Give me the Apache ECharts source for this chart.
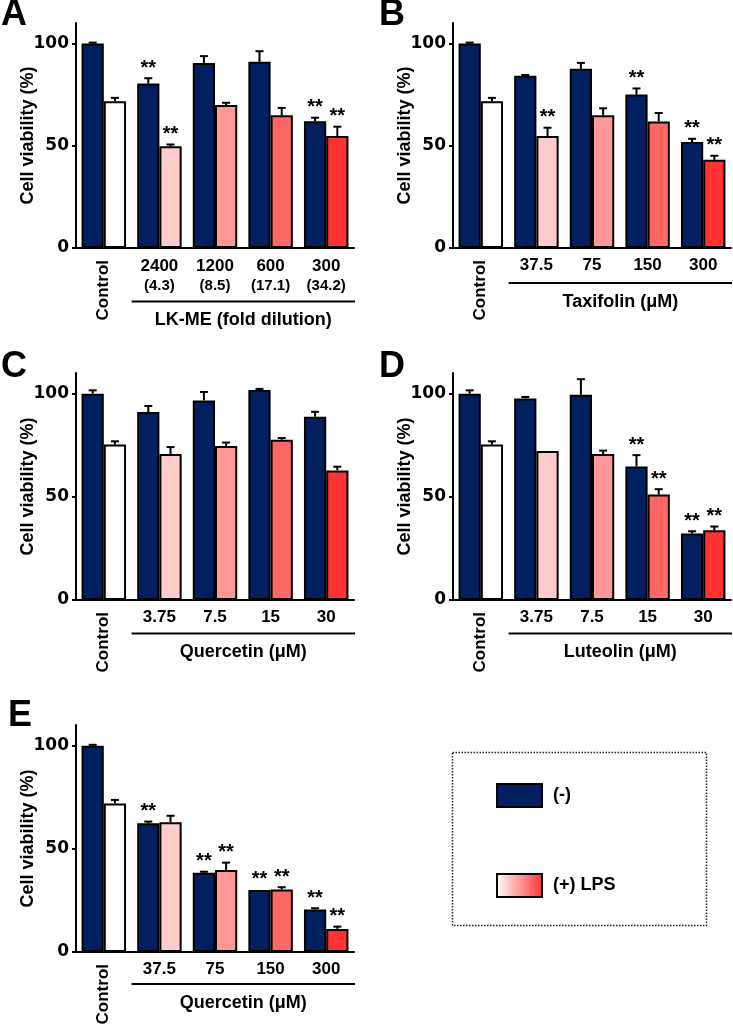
<!DOCTYPE html>
<html>
<head>
<meta charset="utf-8">
<script src="https://cdn.jsdelivr.net/npm/echarts@6/dist/echarts.min.js"></script>
<style>
html,body{margin:0;padding:0;background:#fff;}
#chart{width:733px;height:1030px;}
</style>
</head>
<body>
<div id="chart"></div>
<script>
// ---------- data ----------
const yTicks = [0, 50, 100];

const catsA = ['Control', '2400', '1200', '600', '300'];
const subA = ['', '(4.3)', '(8.5)', '(17.1)', '(34.2)'];
const nameA = 'LK-ME (fold dilution)';
const minusA = [100, 80.4, 90.5, 91, 62];
const minusErrA = [0.4, 2.6, 3.3, 5.2, 1.7];
const lpsA = [71.7, 49.7, 69.9, 64.9, 54.7];
const lpsErrA = [1.7, 0.9, 1.1, 3.6, 4.6];
const sigMinusA = [0, 1, 0, 0, 1];
const sigLpsA = [0, 1, 0, 0, 1];

const catsB = ['Control', '37.5', '75', '150', '300'];
const nameB = 'Taxifolin (μM)';
const minusB = [100, 84.2, 87.6, 75, 51.8];
const minusErrB = [0.4, 0.4, 2.9, 3, 1.6];
const lpsB = [71.7, 54.7, 64.9, 61.9, 43.1];
const lpsErrB = [1.7, 4.1, 3.4, 4.1, 2];
const sigMinusB = [0, 0, 0, 1, 1];
const sigLpsB = [0, 1, 0, 0, 1];

const catsC = ['Control', '3.75', '7.5', '15', '30'];
const nameC = 'Quercetin (μM)';
const minusC = [100, 91.1, 96.7, 101.8, 88.8];
const minusErrC = [1.6, 2.9, 4.1, 0.5, 2.4];
const lpsC = [75.3, 70.7, 74.6, 77.6, 62.8];
const lpsErrC = [1.6, 3.4, 1.7, 0.9, 1.8];
const sigMinusC = [0, 0, 0, 0, 0];
const sigLpsC = [0, 0, 0, 0, 0];

const catsD = ['Control', '3.75', '7.5', '15', '30'];
const nameD = 'Luteolin (μM)';
const minusD = [100, 97.7, 99.5, 64.7, 32.2];
const minusErrD = [1.6, 0.7, 7.5, 5.5, 1.1];
const lpsD = [75.3, 72.2, 70.7, 51.1, 33.8];
const lpsErrD = [1.6, 0, 1.7, 2.6, 1.8];
const sigMinusD = [0, 0, 0, 1, 1];
const sigLpsD = [0, 0, 0, 1, 1];

const catsE = ['Control', '37.5', '75', '150', '300'];
const nameE = 'Quercetin (μM)';
const minusE = [100, 62.4, 38.4, 30.1, 20.6];
const minusErrE = [0.4, 0.8, 0.5, 0, 0.6];
const lpsE = [72, 62.9, 39.7, 30.3, 11.2];
const lpsErrE = [1.7, 3.1, 3.6, 1.1, 1.1];
const sigMinusE = [0, 1, 1, 1, 1];
const sigLpsE = [0, 0, 1, 1, 1];

const seriesNames = ['(-)', '(+) LPS'];
const yName = 'Cell viability (%)';

// ---------- styling / layout ----------
const BLUE = '#002060';
const LPS_COLORS = ['#FFFFFF', '#FFCCCC', '#FF9999', '#FF6666', '#FF3333'];
const FONT = 'Liberation Sans, Arial, sans-serif';
const TICKFONT = 'DejaVu Sans, sans-serif';

const panels = [
  {letter: 'A', cats: catsA, sub: subA, name: nameA, minus: minusA, minusErr: minusErrA, lps: lpsA, lpsErr: lpsErrA, sigM: sigMinusA, sigL: sigLpsA,
   grid: {left: 76, top: 23, width: 278, height: 225}, letterPos: [1, -3], lineOff: 53.5},
  {letter: 'B', cats: catsB, name: nameB, minus: minusB, minusErr: minusErrB, lps: lpsB, lpsErr: lpsErrB, sigM: sigMinusB, sigL: sigLpsB,
   grid: {left: 453, top: 23, width: 278, height: 225}, letterPos: [379, -3], lineOff: 35},
  {letter: 'C', cats: catsC, name: nameC, minus: minusC, minusErr: minusErrC, lps: lpsC, lpsErr: lpsErrC, sigM: sigMinusC, sigL: sigLpsC,
   grid: {left: 76, top: 373, width: 278, height: 227}, letterPos: [1, 349], lineOff: 33.5},
  {letter: 'D', cats: catsD, name: nameD, minus: minusD, minusErr: minusErrD, lps: lpsD, lpsErr: lpsErrD, sigM: sigMinusD, sigL: sigLpsD,
   grid: {left: 453, top: 373, width: 278, height: 227}, letterPos: [379, 349], lineOff: 33.5},
  {letter: 'E', cats: catsE, name: nameE, minus: minusE, minusErr: minusErrE, lps: lpsE, lpsErr: lpsErrE, sigM: sigMinusE, sigL: sigLpsE,
   grid: {left: 76, top: 725, width: 278, height: 227}, letterPos: [8, 698], lineOff: 32}
];

const chart = echarts.init(document.getElementById('chart'), null, {renderer: 'canvas'});

const lpsGradient = new echarts.graphic.LinearGradient(0, 0, 1, 0, [
  {offset: 0, color: '#FFFFFF'}, {offset: 1, color: '#FF3333'}
]);

function errRender(params, api) {
  const c = api.value(0), v = api.value(1), e = api.value(2), s = api.value(3), side = api.value(4);
  const bw = api.size([1, 0])[0];
  const p0 = api.coord([c, v]);
  const p1 = api.coord([c, v + e]);
  const x = p0[0] + side * bw * 0.2;
  const children = [];
  if (e > 0) {
    children.push({type: 'line', shape: {x1: x, y1: p0[1], x2: x, y2: p1[1]}, style: {stroke: '#000', lineWidth: 2}});
    children.push({type: 'line', shape: {x1: x - 4, y1: p1[1], x2: x + 4, y2: p1[1]}, style: {stroke: '#000', lineWidth: 2}});
  }
  if (s) {
    children.push({type: 'text', x: x, y: p1[1] - 10, style: {text: '**', fill: '#000', font: 'bold 20px ' + FONT, align: 'center', verticalAlign: 'middle'}});
  }
  return {type: 'group', children: children};
}

const grids = [], xAxes = [], yAxes = [], series = [], titles = [];
panels.forEach((p, g) => {
  grids.push(Object.assign({containLabel: false}, p.grid));
  titles.push({text: p.letter, left: p.letterPos[0], top: p.letterPos[1], padding: 0,
    textStyle: {fontSize: 36, fontWeight: 'bold', fontFamily: FONT, color: '#000'}});
  xAxes.push({
    gridIndex: g, type: 'category', data: p.cats, position: 'bottom',
    axisLine: {show: true, lineStyle: {color: '#000', width: 2}},
    axisTick: {show: false},
    axisLabel: {
      interval: 0, margin: 9, color: '#000', fontFamily: FONT, fontWeight: 'bold', fontSize: 17,
      formatter: (val, i) => {
        if (val === 'Control') return '';
        if (p.sub) return '{a|' + val + '}\n{b|' + p.sub[i] + '}';
        return val;
      },
      rich: {
        a: {fontSize: 17, fontWeight: 'bold', fontFamily: FONT, color: '#000', lineHeight: 19},
        b: {fontSize: 15, fontWeight: 'bold', fontFamily: FONT, color: '#000', lineHeight: 19}
      }
    },
    splitLine: {show: false}
  });
  xAxes.push({
    gridIndex: g, type: 'category', data: p.cats, position: 'bottom',
    axisLine: {show: false}, axisTick: {show: false}, splitLine: {show: false},
    axisLabel: {
      interval: 0, rotate: 90, margin: 12, color: '#000', fontFamily: FONT, fontWeight: 'bold', fontSize: 17,
      formatter: (val) => (val === 'Control' ? val : '')
    }
  });
  yAxes.push({
    gridIndex: g, type: 'value', min: 0, max: 110, interval: 50,
    axisLine: {show: true, lineStyle: {color: '#000', width: 2}},
    axisTick: {show: true, length: 4, customValues: yTicks, lineStyle: {color: '#000', width: 2}},
    axisLabel: {customValues: yTicks, margin: 7, color: '#000', fontFamily: TICKFONT, fontWeight: 'bold', fontSize: 17},
    splitLine: {show: false},
    name: yName, nameLocation: 'middle', nameGap: 39, nameMoveOverlap: false,
    nameTextStyle: {color: '#000', fontFamily: FONT, fontWeight: 'bold', fontSize: 18}
  });
  const xi = g * 2;
  series.push({
    type: 'bar', name: seriesNames[0], xAxisIndex: xi, yAxisIndex: g,
    data: p.minus, barGap: '0%', barCategoryGap: '20%',
    itemStyle: {color: BLUE, borderColor: '#000', borderWidth: 2},
    emphasis: {disabled: true}
  });
  series.push({
    type: 'bar', name: seriesNames[1], xAxisIndex: xi, yAxisIndex: g,
    data: p.lps.map((v, i) => ({value: v, itemStyle: {color: LPS_COLORS[i]}})),
    barGap: '0%', barCategoryGap: '20%',
    itemStyle: {color: lpsGradient, borderColor: '#000', borderWidth: 2},
    emphasis: {disabled: true}
  });
  const errData = [];
  p.cats.forEach((c, i) => {
    errData.push([i, p.minus[i], p.minusErr[i], p.sigM[i], -1]);
    errData.push([i, p.lps[i], p.lpsErr[i], p.sigL[i], 1]);
  });
  series.push({
    type: 'custom', xAxisIndex: xi, yAxisIndex: g, renderItem: errRender,
    data: errData, encode: {x: 0, y: 1}, z: 5, silent: true
  });
});

chart.setOption({
  animation: false,
  backgroundColor: '#fff',
  title: titles,
  grid: grids,
  xAxis: xAxes,
  yAxis: yAxes,
  series: series,
  legend: {
    data: seriesNames, orient: 'vertical', left: 496, top: 783, padding: 0,
    itemWidth: 45, itemHeight: 23, itemGap: 65, selectedMode: false, icon: 'rect',
    itemStyle: {borderColor: '#000', borderWidth: 2},
    textStyle: {fontSize: 18, fontWeight: 'bold', fontFamily: FONT, color: '#000', padding: [0, 0, 0, 6]}
  }
});

// bracket lines and group names under each panel
const graphics = [];
panels.forEach((p, g) => {
  const xi = g * 2;
  const c0 = chart.convertToPixel({xAxisIndex: xi}, p.cats[0]);
  const c1 = chart.convertToPixel({xAxisIndex: xi}, p.cats[1]);
  const cw = c1 - c0;
  const xStart = c1 - cw / 2;
  const xEnd = p.grid.left + p.grid.width + 1;
  const y0 = chart.convertToPixel({yAxisIndex: g}, 0);
  const ly = y0 + p.lineOff;
  graphics.push({type: 'line', shape: {x1: xStart, y1: ly, x2: xEnd, y2: ly}, style: {stroke: '#000', lineWidth: 2}, silent: true});
  graphics.push({type: 'text', x: (xStart + xEnd) / 2, y: ly + 19,
    style: {text: p.name, font: 'bold 18px ' + FONT, fill: '#000', align: 'center', verticalAlign: 'middle'}, silent: true});
});
// dotted legend frame
graphics.push({type: 'rect', shape: {x: 452.5, y: 752.5, width: 254, height: 173},
  style: {fill: 'none', stroke: '#222', lineWidth: 1.5, lineDash: [1.5, 1.5]}, silent: true, z: -1});
chart.setOption({graphic: graphics});
</script>
</body>
</html>
